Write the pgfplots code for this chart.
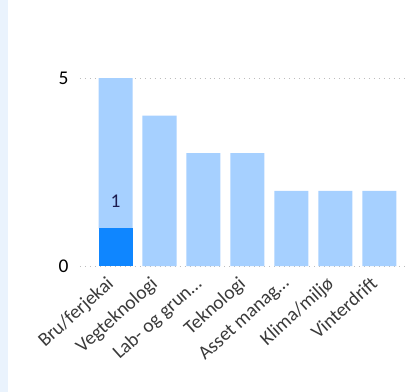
\documentclass[border=0pt]{standalone}
\usepackage{pgfplots}
\pgfplotsset{compat=1.18}
\usepackage{fontspec}
\setmainfont{Carlito}
\definecolor{lightbar}{HTML}{A6D0FF}
\definecolor{darkbar}{HTML}{0F86FF}
\definecolor{stripe}{HTML}{EAF3FD}
\definecolor{labcol}{HTML}{3A3A3A}
\definecolor{gridcol}{HTML}{BDBDBD}
\definecolor{numcol}{HTML}{1C1C50}
\begin{document}
\begin{tikzpicture}
\fill[stripe] (-80bp,-126bp) rectangle (-72bp,266bp);
\path[use as bounding box] (-80bp,-126bp) rectangle (331bp,266bp);
\begin{axis}[
  at={(0,0)}, anchor=south west,
  scale only axis, width=325bp, height=188bp,
  xmin=-0.807, xmax=6.58, ymin=0, ymax=5,
  ybar stacked, bar width=34bp,
  axis line style={draw=none},
  major tick length=0pt,
  ytick={0,5},
  ymajorgrids, grid style={gridcol, line width=1pt, dash pattern=on 1pt off 4pt},
  xtick={0,1,2,3,4,5,6},
  xticklabels={{Bru/ferjekai},{Vegteknologi},{Lab- og grun…},{Teknologi},{Asset manag…},{Klima/miljø},{Vinterdrift}},
  xticklabel style={font=\fontsize{19.5}{19.5}\selectfont, text=labcol, anchor=north east, inner sep=0pt, xshift=-10bp, yshift=-9bp, rotate=42},
  yticklabel style={font=\fontsize{19.5}{19.5}\selectfont, text=black, xshift=-8bp},
  /pgf/number format/assume math mode=true,
  clip=false,
]
\addplot[fill=darkbar, draw=none,
  nodes near coords={\pgfmathfloatifflags{\pgfplotspointmeta}{0}{}{\pgfmathprintnumber{\pgfplotspointmeta}}},
  nodes near coords style={font=\fontsize{19.5}{19.5}\selectfont, text=numcol, anchor=center, yshift=46bp}]
  coordinates {(0,1) (1,0) (2,0) (3,0) (4,0) (5,0) (6,0)};
\addplot[fill=lightbar, draw=none] coordinates {(0,4) (1,4) (2,3) (3,3) (4,2) (5,2) (6,2)};
\end{axis}
\end{tikzpicture}
\end{document}
